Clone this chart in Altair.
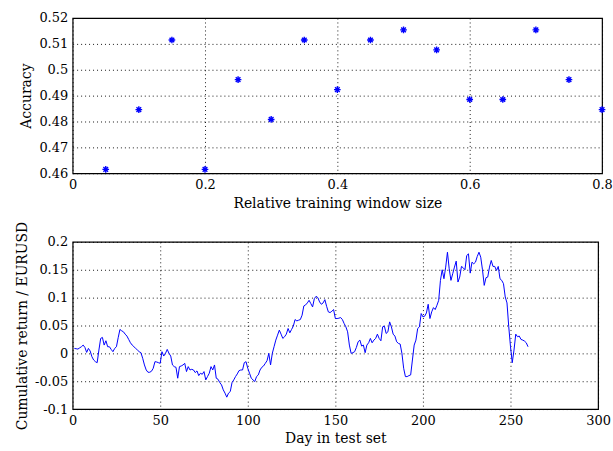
import altair as alt
import pandas as pd

# ---- top panel: accuracy vs relative training window size ----
window_size = [0.05, 0.10, 0.15, 0.20, 0.25, 0.30, 0.35, 0.40,
               0.45, 0.50, 0.55, 0.60, 0.65, 0.70, 0.75, 0.80]
accuracy = [0.4615, 0.4846, 0.5115, 0.4615, 0.4962, 0.4808, 0.5115, 0.4923,
            0.5115, 0.5154, 0.5077, 0.4885, 0.4885, 0.5154, 0.4962, 0.4846]

# ---- bottom panel: cumulative return per day ----
cum_return = [
    0.0089, 0.0083, 0.0077, 0.0098, 0.0119, 0.0149, 0.0107, 0.0018, 0.0089, 0.0042,
    -0.0060, -0.0119, -0.0149, -0.0167, 0.0060, 0.0268, 0.0286, 0.0149, 0.0226, 0.0119,
    0.0119, 0.0071, 0.0030, 0.0089, 0.0119, 0.0280, 0.0429, 0.0405, 0.0387, 0.0345,
    0.0310, 0.0250, 0.0190, 0.0149, 0.0119, 0.0089, 0.0060, 0.0030, 0.0012, -0.0089,
    -0.0208, -0.0298, -0.0339, -0.0339, -0.0321, -0.0268, -0.0149, -0.0155, -0.0167, -0.0179,
    0.0030, -0.0048, 0.0000, 0.0071, 0.0000, -0.0048, -0.0208, -0.0238, -0.0250, -0.0446,
    -0.0238, -0.0226, -0.0208, -0.0179, -0.0327, -0.0238, -0.0298, -0.0286, -0.0298, -0.0345,
    -0.0315, -0.0399, -0.0357, -0.0375, -0.0327, -0.0476, -0.0417, -0.0357, -0.0238, -0.0298,
    -0.0208, -0.0446, -0.0464, -0.0524, -0.0565, -0.0655, -0.0714, -0.0786, -0.0714, -0.0685,
    -0.0524, -0.0476, -0.0417, -0.0369, -0.0310, -0.0298, -0.0298, -0.0167, -0.0149, -0.0268,
    -0.0357, -0.0446, -0.0476, -0.0506, -0.0417, -0.0387, -0.0298, -0.0250, -0.0226, -0.0179,
    -0.0131, 0.0000, -0.0208, 0.0000, 0.0119, 0.0238, 0.0327, 0.0417, 0.0345, 0.0268,
    0.0298, 0.0345, 0.0446, 0.0369, 0.0429, 0.0488, 0.0607, 0.0583, 0.0595, 0.0607,
    0.0685, 0.0851, 0.0869, 0.0905, 0.0952, 0.0893, 0.0833, 0.0982, 0.1024, 0.1000,
    0.0923, 0.0881, 0.0905, 0.0964, 0.0845, 0.0744, 0.0732, 0.0756, 0.0786, 0.0625,
    0.0625, 0.0631, 0.0643, 0.0607, 0.0536, 0.0476, 0.0387, 0.0149, 0.0000, 0.0012,
    0.0030, 0.0107, 0.0208, 0.0238, 0.0131, 0.0149, 0.0012, 0.0149, 0.0190, 0.0268,
    0.0190, 0.0238, 0.0268, 0.0345, 0.0268, 0.0226, 0.0476, 0.0488, 0.0357, 0.0387,
    0.0565, 0.0476, 0.0345, 0.0310, 0.0208, 0.0179, 0.0167, 0.0000, -0.0268, -0.0417,
    -0.0417, -0.0399, -0.0387, -0.0119, 0.0149, 0.0238, 0.0446, 0.0476, 0.0714, 0.0655,
    0.0667, 0.0726, 0.0881, 0.0625, 0.0744, 0.0821, 0.0786, 0.0863, 0.0952, 0.1310,
    0.1500, 0.1339, 0.1548, 0.1815, 0.1518, 0.1310, 0.1429, 0.1548, 0.1655, 0.1280,
    0.1369, 0.1560, 0.1536, 0.1500, 0.1756, 0.1786, 0.1440, 0.1637, 0.1607, 0.1637,
    0.1738, 0.1815, 0.1726, 0.1500, 0.1220, 0.1357, 0.1369, 0.1548, 0.1667, 0.1560,
    0.1560, 0.1488, 0.1560, 0.1339, 0.1310, 0.1250, 0.1012, 0.0905, 0.0476, 0.0119,
    -0.0167, 0.0060, 0.0345, 0.0298, 0.0310, 0.0250, 0.0238, 0.0220, 0.0190, 0.0119,
]
day = list(range(1, len(cum_return) + 1))

acc_df = pd.DataFrame({"window": window_size, "accuracy": accuracy})
ret_df = pd.DataFrame({"day": day, "ret": cum_return})

FONT = "DejaVu Serif"
BLUE = "#0000ff"
ASTERISK = "M-1,0L1,0M0,-1L0,1M-0.7,-0.7L0.7,0.7M-0.7,0.7L0.7,-0.7"

label_expr = "datum.value < 0 ? '-' + format(-datum.value, '~g') : format(datum.value, '~g')"

def axis(title, values, **kw):
    return alt.Axis(
        title=title, values=values, labelExpr=label_expr, labelFlush=False,
        grid=True, gridColor="black", gridDash=[1, 3], gridOpacity=0.9, gridWidth=1,
        ticks=False, domain=False, labelFont=FONT, titleFont=FONT,
        labelFontSize=13, titleFontSize=14, titleFontWeight="normal",
        labelColor="black", titleColor="black", labelPadding=5, titlePadding=5,
        **kw,
    )

top = alt.Chart(acc_df).mark_point(
    shape=ASTERISK, filled=False, color=BLUE, size=45, strokeWidth=1.4, opacity=1
).encode(
    x=alt.X("window:Q", scale=alt.Scale(domain=[0, 0.8], nice=False),
            axis=axis("Relative training window size", [0, 0.2, 0.4, 0.6, 0.8])),
    y=alt.Y("accuracy:Q", scale=alt.Scale(domain=[0.46, 0.52], nice=False, zero=False),
            axis=axis("Accuracy", [0.46, 0.47, 0.48, 0.49, 0.50, 0.51, 0.52])),
).properties(width=532, height=156)

bottom = alt.Chart(ret_df).mark_line(color=BLUE, strokeWidth=1).encode(
    x=alt.X("day:Q", scale=alt.Scale(domain=[0, 300], nice=False),
            axis=axis("Day in test set", [0, 50, 100, 150, 200, 250, 300])),
    y=alt.Y("ret:Q", scale=alt.Scale(domain=[-0.1, 0.2], nice=False, zero=False),
            axis=axis("Cumulative return / EURUSD", [-0.1, -0.05, 0, 0.05, 0.1, 0.15, 0.2])),
).properties(width=528, height=168)

chart = alt.concat(top, bottom, columns=1, align="none", spacing=9).properties(
    padding={"left": 15, "top": 10, "right": 0, "bottom": 0}
).configure_view(stroke="black", strokeWidth=1.2)

chart.save("out.html", embed_options={"renderer": "svg", "actions": False})
